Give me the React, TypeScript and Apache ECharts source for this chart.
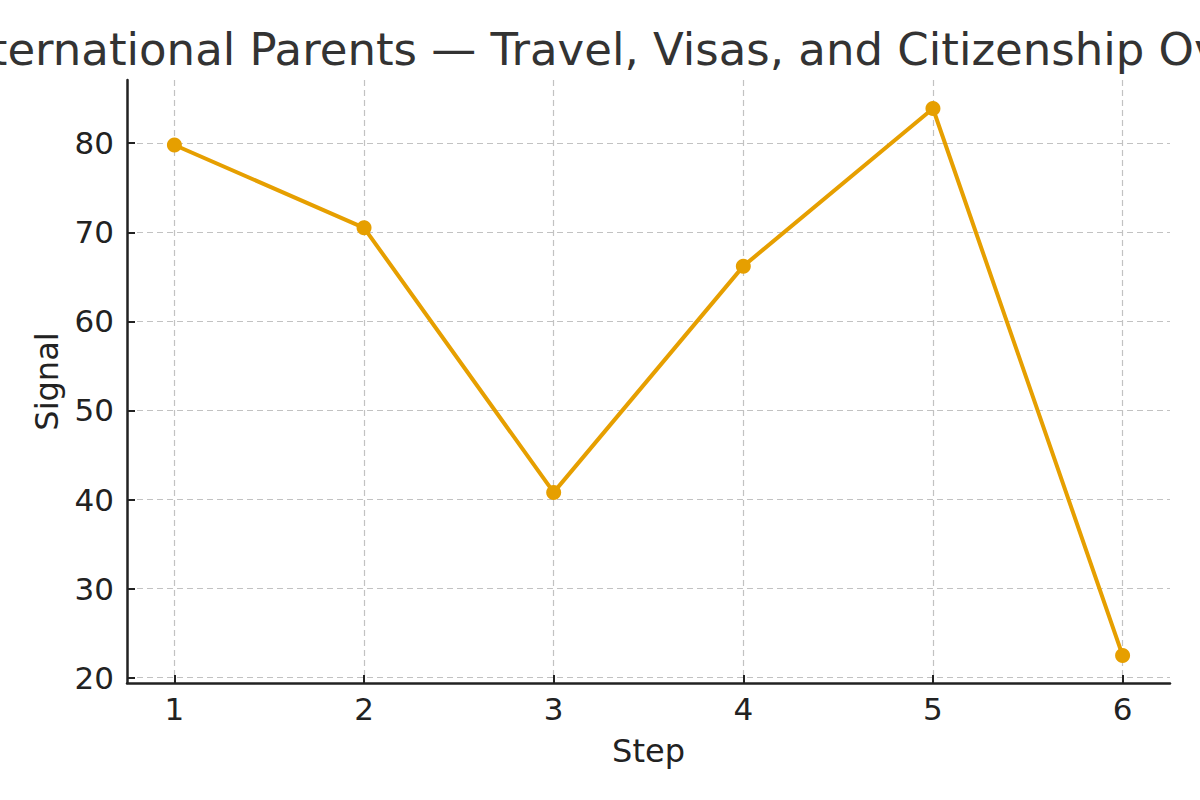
import React, { useEffect, useRef } from "react";
import * as echarts from "echarts";

const titleText = "International Parents — Travel, Visas, and Citizenship Over Time";
const steps = [1, 2, 3, 4, 5, 6];
const signal = [79.8, 70.5, 40.8, 66.2, 83.9, 22.5];
const yTicks = [20, 30, 40, 50, 60, 70, 80];

export default function App() {
  const ref = useRef<HTMLDivElement>(null);
  useEffect(() => {
    if (!ref.current) return;
    const chart = echarts.init(ref.current, null, { renderer: "svg" });
    const font = "DejaVu Sans";
    chart.setOption({
      animation: false,
      backgroundColor: "#ffffff",
      textStyle: { fontFamily: font },
      graphic: [
        {
          type: "text",
          x: -52,
          y: 49,
          style: {
            text: titleText,
            font: `45px '${font}'`,
            fill: "#333333",
            textAlign: "left",
            textVerticalAlign: "middle",
          },
        },
      ],
      grid: { left: 127, right: 30, top: 80, bottom: 117 },
      xAxis: {
        type: "value",
        min: 0.75,
        max: 6.25,
        name: "Step",
        nameLocation: "middle",
        nameGap: 52,
        nameTextStyle: { fontSize: 32, color: "#222222", fontFamily: font },
        axisLine: { show: true, lineStyle: { color: "#222222", width: 2.5 } },
        axisTick: { show: true, inside: true, length: 8, lineStyle: { color: "#222222", width: 2 }, customValues: steps },
        axisLabel: { fontSize: 31, color: "#222222", fontFamily: font, margin: 10, customValues: steps },
        splitLine: { show: true, lineStyle: { color: "#c2c2c2", width: 1.2, type: [6, 4] } },
      },
      yAxis: {
        type: "value",
        min: 19.4,
        max: 87.1,
        name: "Signal",
        nameLocation: "middle",
        nameGap: 64,
        nameTextStyle: { fontSize: 32, color: "#222222", fontFamily: font },
        axisLine: { show: true, lineStyle: { color: "#222222", width: 2.5 } },
        axisTick: { show: true, inside: true, length: 8, lineStyle: { color: "#222222", width: 2 }, customValues: yTicks },
        axisLabel: { fontSize: 31, color: "#222222", fontFamily: font, margin: 13, customValues: yTicks },
        splitLine: { show: true, lineStyle: { color: "#c2c2c2", width: 1.2, type: [6, 4] } },
      },
      series: [
        {
          type: "line",
          data: steps.map((s, i) => [s, signal[i]]),
          symbol: "circle",
          symbolSize: 15,
          lineStyle: { color: "#E69F00", width: 4 },
          itemStyle: { color: "#E69F00" },
        },
      ],
    });
    return () => chart.dispose();
  }, []);
  return <div ref={ref} style={{ width: 1200, height: 800, position: "absolute", left: 0, top: 0 }} />;
}
